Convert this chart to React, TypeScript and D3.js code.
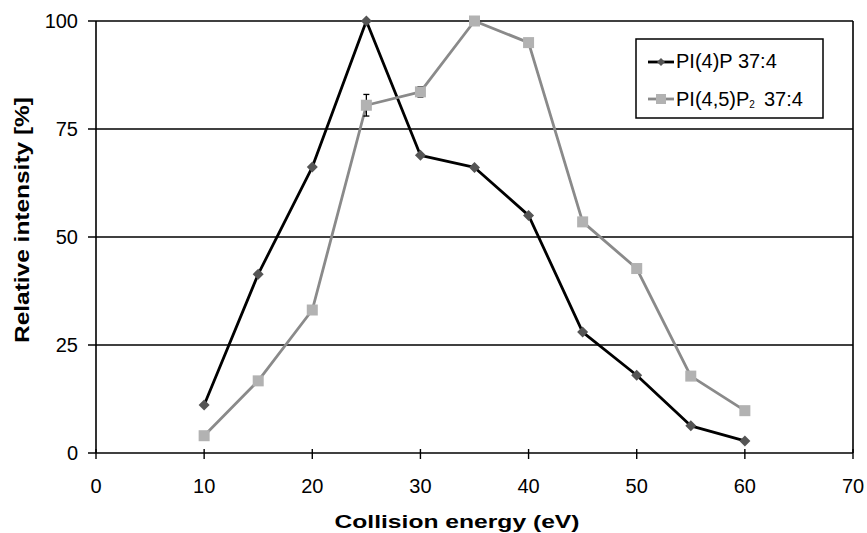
import React from "react";
import * as d3 from "d3";

const energies = [10, 15, 20, 25, 30, 35, 40, 45, 50, 55, 60];
const pi4p = [11.1, 41.4, 66.2, 100, 68.9, 66.1, 55, 28, 18, 6.3, 2.8];
const pi45p2 = [4.0, 16.7, 33.1, 80.5, 83.6, 100, 95, 53.5, 42.7, 17.8, 9.8];
const pi45p2Err = [0, 0, 0, 2.5, 1.2, 0, 0, 0, 0, 0, 0];
const xTicks = [0, 10, 20, 30, 40, 50, 60, 70];
const yTicks = [0, 25, 50, 75, 100];

const W = 867, H = 533;
const M = { left: 96, right: 853, top: 21, bottom: 453 };
const FONT = "'Liberation Sans', Arial, sans-serif";

export default function App() {
  const x = d3.scaleLinear().domain([0, 70]).range([M.left, M.right]);
  const y = d3.scaleLinear().domain([0, 100]).range([M.bottom, M.top]);
  const line = d3.line<[number, number]>().x(d => x(d[0])).y(d => y(d[1]));
  const d1 = energies.map((e, i) => [e, pi4p[i]] as [number, number]);
  const d2 = energies.map((e, i) => [e, pi45p2[i]] as [number, number]);
  const diamond = (cx: number, cy: number, r: number) =>
    `M${cx},${cy - r}L${cx + r},${cy}L${cx},${cy + r}L${cx - r},${cy}Z`;

  return (
    <svg width={W} height={H} style={{ position: "absolute", left: 0, top: 0, background: "#fff" }} fontFamily={FONT}>
      {/* gridlines */}
      {yTicks.map(t => (
        <line key={"g" + t} x1={M.left - 8} x2={M.right} y1={y(t)} y2={y(t)} stroke="#000" strokeWidth={1.6} />
      ))}
      {/* axes */}
      <line x1={M.left} x2={M.left} y1={M.top} y2={M.bottom} stroke="#000" strokeWidth={1.6} />
      <line x1={M.right} x2={M.right} y1={M.top} y2={M.bottom} stroke="#000" strokeWidth={1.6} />
      {xTicks.map(t => (
        <g key={"x" + t}>
          <line x1={x(t)} x2={x(t)} y1={M.bottom - 4} y2={M.bottom + 6} stroke="#000" strokeWidth={1.4} />
          <text x={x(t)} y={M.bottom + 40} textAnchor="middle" fontSize={20}>{t}</text>
        </g>
      ))}
      {yTicks.map(t => (
        <text key={"y" + t} x={78} y={y(t) + 7} textAnchor="end" fontSize={20}>{t}</text>
      ))}
      {/* lines */}
      <path d={line(d1) || ""} fill="none" stroke="#000" strokeWidth={2.8} strokeLinejoin="round" />
      <path d={line(d2) || ""} fill="none" stroke="#8a8a8a" strokeWidth={2.8} strokeLinejoin="round" />
      {/* error bars */}
      {energies.map((e, i) =>
        pi45p2Err[i] > 0 ? (
          <g key={"e" + i} stroke="#000" strokeWidth={1.3}>
            <line x1={x(e)} x2={x(e)} y1={y(pi45p2[i] + pi45p2Err[i])} y2={y(pi45p2[i] - pi45p2Err[i])} />
            <line x1={x(e) - 3} x2={x(e) + 3} y1={y(pi45p2[i] + pi45p2Err[i])} y2={y(pi45p2[i] + pi45p2Err[i])} />
            <line x1={x(e) - 3} x2={x(e) + 3} y1={y(pi45p2[i] - pi45p2Err[i])} y2={y(pi45p2[i] - pi45p2Err[i])} />
          </g>
        ) : null
      )}
      {/* markers */}
      {d2.map((p, i) => (
        <rect key={"s" + i} x={x(p[0]) - 5.5} y={y(p[1]) - 5.5} width={11} height={11} fill="#b2b2b2" />
      ))}
      {d1.map((p, i) => (
        <path key={"d" + i} d={diamond(x(p[0]), y(p[1]), 5.5)} fill="#555" />
      ))}
      {/* legend */}
      <rect x={636} y={39} width={187} height={79} fill="#fff" stroke="#000" strokeWidth={1.5} />
      <line x1={648} x2={674} y1={62} y2={62} stroke="#000" strokeWidth={2.8} />
      <path d={diamond(661, 62, 4)} fill="#555" />
      <text x={676} y={68} fontSize={20}>PI(4)P 37:4</text>
      <line x1={648} x2={674} y1={99} y2={99} stroke="#8a8a8a" strokeWidth={2.8} />
      <rect x={656} y={94} width={10} height={10} fill="#b2b2b2" />
      <text x={676} y={106} fontSize={20}>PI(4,5)P<tspan fontSize={10} dy={2}>2</tspan><tspan dy={-2} dx={9}>37:4</tspan></text>
      {/* axis titles */}
      <text x={457} y={528} textAnchor="middle" fontSize={19} fontWeight="bold" textLength={245} lengthAdjust="spacingAndGlyphs">Collision energy  (eV)</text>
      <text transform={`translate(29,220) rotate(-90)`} textAnchor="middle" fontSize={20} fontWeight="bold" textLength={246} lengthAdjust="spacingAndGlyphs">Relative intensity [%]</text>
    </svg>
  );
}
